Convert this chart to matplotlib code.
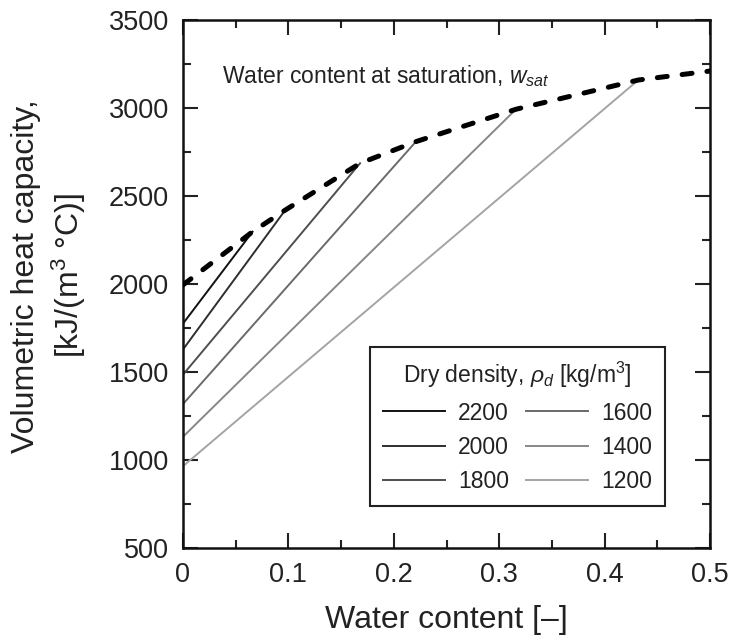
import numpy as np
import matplotlib
matplotlib.use("Agg")
import matplotlib.pyplot as plt

plt.rcParams['font.family'] = ['Liberation Sans', 'DejaVu Sans']
plt.rcParams['mathtext.fontset'] = 'custom'
plt.rcParams['mathtext.rm'] = 'Liberation Sans'
plt.rcParams['mathtext.it'] = 'Liberation Sans:italic'

# dry densities and their lines (from w=0 up to w_sat)
densities = ["2200", "2000", "1800", "1600", "1400", "1200"]
c_dry = [1775, 1628, 1485, 1318, 1132, 965]        # heat capacity at w = 0
w_sat = [0.066, 0.097, 0.168, 0.221, 0.316, 0.432]
c_sat = [2297, 2420, 2686, 2809, 2993, 3159]
line_colors = ["#111111", "#2e2e2e", "#4e4e4e", "#6a6a6a", "#878787", "#a4a4a4"]

# saturation curve (dashed)
sat_w = [0.0, 0.066, 0.097, 0.168, 0.221, 0.316, 0.432, 0.5]
sat_c = [1995, 2297, 2420, 2686, 2809, 2993, 3159, 3210]

fig = plt.figure(figsize=(7.35, 6.41), dpi=100)
ax = fig.add_axes([183/735, 1-548/641, (710-183)/735, (548-20)/641])

for i in range(len(densities)):
    ax.plot([0, w_sat[i]], [c_dry[i], c_sat[i]], color=line_colors[i], lw=1.4,
            label=densities[i])

ax.plot(sat_w, sat_c, color="black", lw=3.6, ls=(0, (2.0, 3.0)),
        dash_capstyle="round", zorder=5)

ax.text(0.037, 3180, "Water content at saturation, $w_{sat}$", fontsize=16.5,
        va="center", ha="left", color="#222222")

ax.set_xlim(0, 0.5)
ax.set_ylim(500, 3500)
ax.set_xticks([0, 0.1, 0.2, 0.3, 0.4, 0.5])
ax.set_xticklabels(["0", "0.1", "0.2", "0.3", "0.4", "0.5"])
ax.set_xticks(np.arange(0.05, 0.5, 0.1), minor=True)
ax.set_yticks(range(500, 3501, 500))
ax.set_yticks(range(750, 3500, 500), minor=True)
ax.tick_params(which="both", direction="in", top=True, right=True, width=1.5,
               labelsize=19.5, colors="#222222", pad=10)
ax.tick_params(which="major", length=11)
ax.tick_params(which="minor", length=6)
for s in ax.spines.values():
    s.set_linewidth(1.8)
    s.set_color("#111111")

ax.set_xlabel("Water content [\u2013]", fontsize=23, color="#222222", labelpad=12)
ax.set_ylabel("Volumetric heat capacity,\n[kJ/(m$^3$ \u00b0C)]", fontsize=23,
              color="#222222", linespacing=1.3)
ax.yaxis.set_label_coords(-0.18, 0.515)

# legend: two columns, order 2200/2000/1800 | 1600/1400/1200
leg = ax.legend(ncol=2, loc="lower left", bbox_to_anchor=(0.355, 0.0795, 0.56, 0.3065),
                mode="expand", fontsize=16.5, handlelength=2.7, handletextpad=0.6,
                columnspacing=1.0, labelspacing=0.5, borderaxespad=0, borderpad=0.55,
                title="Dry density, $\\rho_d$ [kg/m$^3$]", title_fontsize=16.5,
                fancybox=False, framealpha=1, edgecolor="#222222")
leg.get_frame().set_linewidth(1.5)
for t in leg.get_texts():
    t.set_color("#222222")
leg.get_title().set_color("#222222")

fig.savefig("out.png", dpi=100)
